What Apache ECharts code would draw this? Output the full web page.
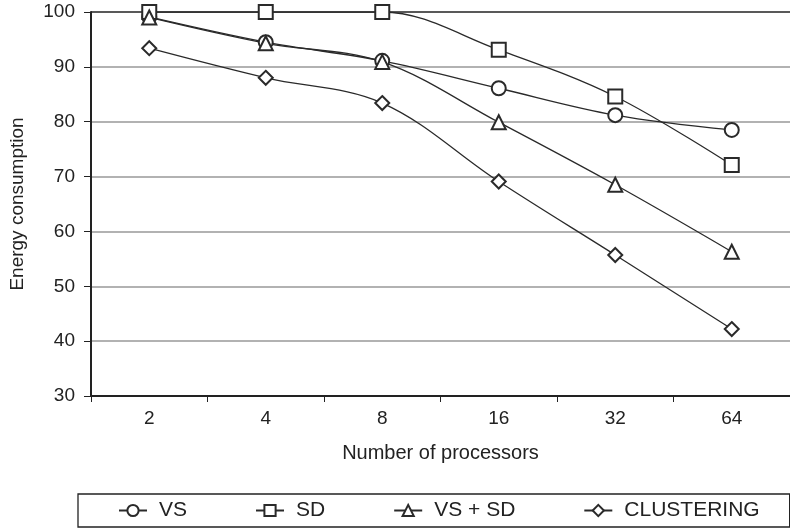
<!DOCTYPE html>
<html>
<head>
<meta charset="utf-8">
<script src="https://cdn.jsdelivr.net/npm/echarts@6/dist/echarts.min.js"></script>
<style>
  body { margin: 0; background: #fff; }
  #chart { width: 790px; height: 529px; }
</style>
</head>
<body>
<div id="chart"></div>
<script>
// processors on the x axis
const processors = ['2', '4', '8', '16', '32', '64'];
// energy consumption per method
const vsData = [99.1, 94.5, 91.1, 86.1, 81.2, 78.5];
const sdData = [100, 100, 100, 93.1, 84.6, 72.1];
const vsSdData = [99.0, 94.3, 90.9, 79.9, 68.5, 56.3];
const clusteringData = [93.4, 88.0, 83.4, 69.1, 55.7, 42.2];
const seriesNames = ['VS', 'SD', 'VS + SD', 'CLUSTERING'];
const seriesSymbols = ['emptyCircle', 'emptyRect', 'emptyTriangle', 'emptyDiamond'];

const ink = '#222';
const font = 'Liberation Sans, Arial, sans-serif';

function makeSeries(name, data, symbol) {
    return {
        name: name,
        type: 'line',
        data: data,
        smooth: 0.35,
        symbol: symbol,
        symbolSize: 14,
        lineStyle: { color: '#2a2a2a', width: 1.3 },
        itemStyle: { color: '#2a2a2a', borderColor: '#2a2a2a', borderWidth: 1.3 },
        z: 3
    };
}

const allData = [vsData, sdData, vsSdData, clusteringData];

let option = {
    animation: false,
    textStyle: { fontFamily: font, color: ink },
    grid: { left: 89, right: 0, top: 12, bottom: 133 },
    legend: {
        data: seriesNames,
        left: 78,
        top: 494,
        width: 710,
        padding: [6, 30, 6, 40],
        itemGap: 68,
        itemWidth: 28,
        itemHeight: 14,
        borderColor: ink,
        borderWidth: 1.3,
        textStyle: { fontSize: 21, color: ink, fontFamily: font, padding: [0, 0, 0, 7], lineHeight: 21 }
    },
    xAxis: {
        type: 'category',
        data: processors,
        boundaryGap: true,
        name: 'Number of processors',
        nameLocation: 'middle',
        nameGap: 47,
        nameTextStyle: { fontSize: 20, color: ink, fontFamily: font },
        axisLine: { lineStyle: { color: ink, width: 2 } },
        axisTick: { show: true, length: 6, lineStyle: { color: ink, width: 1 } },
        axisLabel: { fontSize: 19, color: ink, margin: 13, fontFamily: font }
    },
    yAxis: {
        type: 'value',
        min: 30,
        max: 100,
        interval: 10,
        name: 'Energy consumption',
        nameLocation: 'middle',
        nameGap: 64,
        nameTextStyle: { fontSize: 19, color: ink, fontFamily: font },
        axisLine: { show: true, lineStyle: { color: ink, width: 2 } },
        axisTick: { show: true, length: 7, lineStyle: { color: ink, width: 1 } },
        axisLabel: { fontSize: 19, color: ink, margin: 16, fontFamily: font },
        splitLine: {
            show: true,
            lineStyle: {
                color: ['#999', '#999', '#999', '#999', '#999', '#999', '#999', '#222'],
                width: 1.5
            }
        }
    },
    series: seriesNames.map((n, i) => makeSeries(n, allData[i], seriesSymbols[i]))
};

let myChart = echarts.init(document.getElementById('chart'));
myChart.setOption(option);
</script>
</body>
</html>
